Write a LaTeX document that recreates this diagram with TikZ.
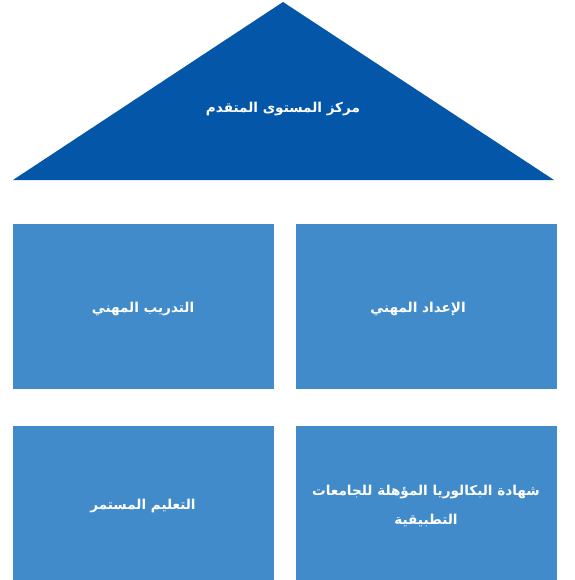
\documentclass[tikz,border=0pt]{standalone}
\usepackage{fontspec}
\newfontfamily\arabicfont[Script=Arabic]{DejaVu Sans}
\TeXXeTstate=1
\definecolor{darkblue}{HTML}{0457A8}
\definecolor{boxblue}{HTML}{428BCA}
\begin{document}
\begin{tikzpicture}[x=1pt,y=-1pt,
  boxstyle/.style={fill=boxblue,draw=none},
  labelstyle/.style={text=white,font=\arabicfont\bfseries\fontsize{13.6}{29}\selectfont,align=center}]
\useasboundingbox (0,0) rectangle (574,580);
\fill[darkblue] (283,2) -- (554,180) -- (13,180) -- cycle;
\node[labelstyle] (top) at (283,109) {\beginR مركز المستوى المتقدم\endR};
\fill[boxstyle] (296,224) rectangle (557,389);
\fill[boxstyle] (13,224) rectangle (274,389);
\fill[boxstyle] (296,426) rectangle (557,580);
\fill[boxstyle] (13,426) rectangle (274,580);
\node[labelstyle] (b1) at (418,309) {\beginR الإعداد المهني\endR};
\node[labelstyle] (b2) at (143,309) {\beginR التدريب المهني\endR};
\node[labelstyle] (b3) at (426,506) {\beginR شهادة البكالوريا المؤهلة للجامعات\endR\\\beginR التطبيقية\endR};
\node[labelstyle] (b4) at (143,506) {\beginR التعليم المستمر\endR};
\end{tikzpicture}
\end{document}
